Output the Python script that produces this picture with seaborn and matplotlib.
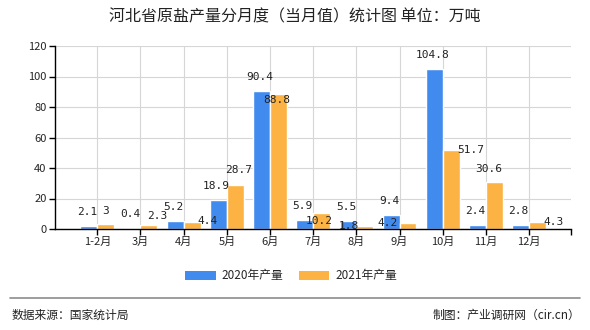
import matplotlib
matplotlib.use("Agg")
import matplotlib.pyplot as plt
import seaborn as sns
import pandas as pd
from matplotlib.lines import Line2D
from matplotlib.patches import Patch

months = ["1-2月", "3月", "4月", "5月", "6月", "7月", "8月", "9月", "10月", "11月", "12月"]
v2020 = [2.1, 0.4, 5.2, 18.9, 90.4, 5.9, 5.5, 9.4, 104.8, 2.4, 2.8]
v2021 = [3, 2.3, 4.4, 28.7, 88.8, 10.2, 1.8, 4.2, 51.7, 30.6, 4.3]
series = ["2020年产量", "2021年产量"]
yticks = [0, 20, 40, 60, 80, 100, 120]

title = "河北省原盐产量分月度（当月值）统计图 单位：万吨"
source = "数据来源：国家统计局"
maker = "制图：产业调研网（cir.cn）"

# label layout (pixel offsets) for the 2021 value labels
lab21_dx = [0, 8, 15, 3, -2, -2, -16, -20, 20, -6, 16]
lab21_dy = [13, 9, 1, 15, -6, -8, 0, 0, 0, 13, 0]

colors = ["#428BEE", "#FDB244"]

sns.set_theme(style="white")
plt.rcParams['font.family'] = ['Noto Sans CJK SC', 'DejaVu Sans']

df = pd.DataFrame({
    "month": months * 2,
    "value": v2020 + v2021,
    "series": [series[0]] * len(months) + [series[1]] * len(months),
})

fig = plt.figure(figsize=(5.9, 3.3), dpi=100)
ax = fig.add_axes([55/590, 1-229/330, (571-55)/590, (229-46)/330])

sns.barplot(data=df, x="month", y="value", hue="series", palette=colors,
            width=0.78, saturation=1, ax=ax, legend=False, errorbar=None)

ax.set_xlim(-0.98, 10.97)
ax.set_ylim(0, 120)
ax.set_yticks(yticks)
ax.set_xlabel("")
ax.set_ylabel("")
ax.grid(True, color="#d6d6d6", linewidth=0.8)
ax.set_axisbelow(True)
for s in ["top", "right"]:
    ax.spines[s].set_visible(False)
for s in ["left", "bottom"]:
    ax.spines[s].set_color("black")
    ax.spines[s].set_linewidth(1.0)
ax.tick_params(axis="both", which="both", direction="out", length=4, width=1,
               color="black", labelsize=8, pad=2, left=True, bottom=True)
ax.set_xticks([10.97], minor=True)
ax.tick_params(axis="x", which="minor", length=4, width=1, color="black")
for t in ax.get_xticklabels() + ax.get_yticklabels():
    t.set_fontsize(8)

# value labels
px = 72 / fig.dpi
for i, v in enumerate(v2020):
    ax.annotate(f"{v:g}", (i - 0.195, v), xytext=(-2 * px, 14 * px),
                textcoords="offset points", ha="center", va="center",
                fontsize=8, family=["DejaVu Sans Mono"], color="#222222")
for i, v in enumerate(v2021):
    ax.annotate(f"{v:g}", (i + 0.195, v),
                xytext=(lab21_dx[i] * px, lab21_dy[i] * px),
                textcoords="offset points", ha="center", va="center",
                fontsize=8, family=["DejaVu Sans Mono"], color="#222222")

fig.text(0.5, 1 - 17/330, title, ha="center", va="center", fontsize=11.5, color="#222222")

handles = [Patch(facecolor=colors[0], edgecolor="none"),
           Patch(facecolor=colors[1], edgecolor="none")]
fig.legend(handles, series, loc="center", bbox_to_anchor=(291/590, 1 - 276/330),
           ncol=2, frameon=False, fontsize=8.5, handlelength=2.6, handleheight=0.8,
           columnspacing=1.3, handletextpad=0.5)

fig.add_artist(Line2D([10/590, 580/590], [1 - 298/330, 1 - 298/330],
                      color="#8c8c8c", linewidth=1.2, transform=fig.transFigure))
fig.text(12/590, 1 - 315/330, source, ha="left", va="center", fontsize=8.5, color="#222222")
fig.text(580/590, 1 - 315/330, maker, ha="right", va="center", fontsize=8.5, color="#222222")

fig.savefig("out.png", dpi=100)
